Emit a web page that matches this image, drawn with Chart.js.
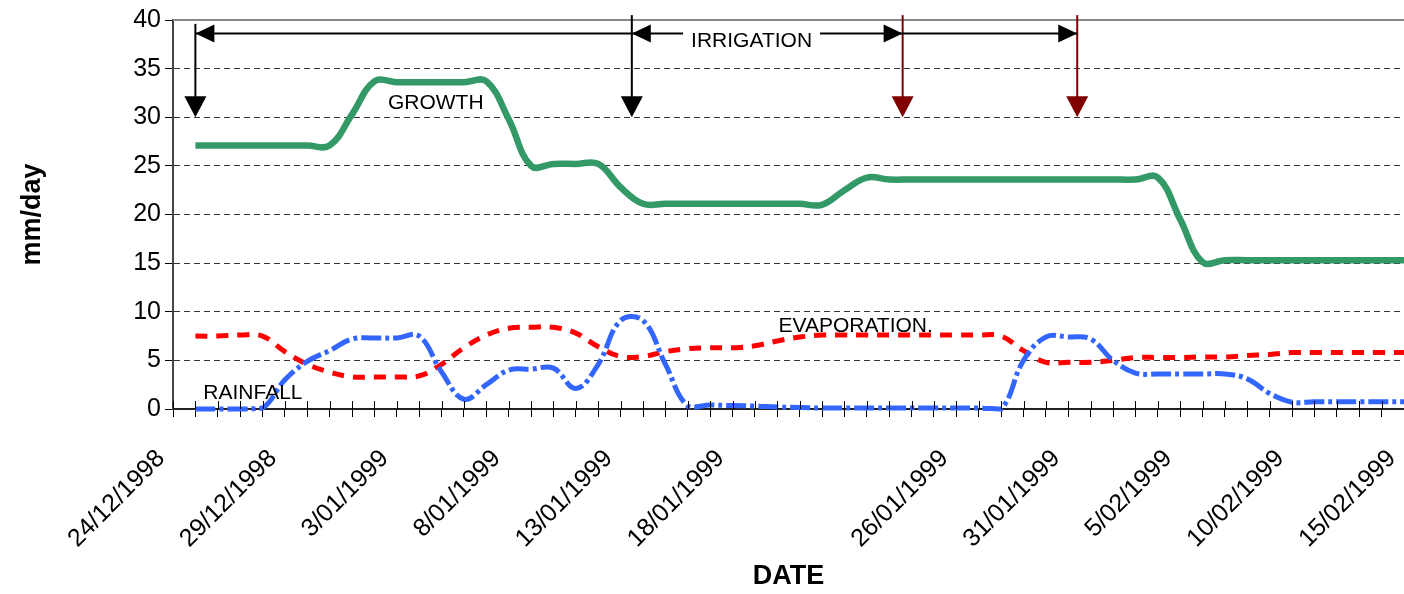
<!DOCTYPE html>
<html><head><meta charset="utf-8">
<script src="https://cdn.jsdelivr.net/npm/chart.js@4/dist/chart.umd.min.js"></script>
<style>html,body{margin:0;padding:0;background:#fff;}#wrap{width:1404px;height:594px;position:relative;}</style>
</head><body><div id="wrap"><canvas id="c" width="1404" height="594"></canvas></div>
<script>
// ---- data ----
const tickDates = ['24/12/1998','29/12/1998','3/01/1999','8/01/1999','13/01/1999','18/01/1999','','26/01/1999','31/01/1999','5/02/1999','10/02/1999','15/02/1999'];
const categories = [];
for (let i = 0; i < 56; i++) categories.push(i % 5 === 0 ? tickDates[i / 5] : '');

const growth = [null,27.1,27.1,27.1,27.1,27.1,27.1,27.1,30.3,33.7,33.6,33.6,33.6,33.6,33.7,29.8,25.0,25.2,25.2,25.2,22.8,21.1,21.1,21.1,21.1,21.1,21.1,21.1,21.1,21.0,22.5,23.8,23.6,23.6,23.6,23.6,23.6,23.6,23.6,23.6,23.6,23.6,23.6,23.6,23.8,19.5,15.1,15.3,15.3,15.3,15.3,15.3,15.3,15.3,15.3,15.3];
const evaporation = [null,7.5,7.5,7.6,7.5,5.9,4.6,3.8,3.3,3.3,3.3,3.4,4.6,6.3,7.6,8.3,8.4,8.4,7.8,6.4,5.4,5.4,5.9,6.2,6.3,6.3,6.5,7.0,7.4,7.6,7.6,7.6,7.6,7.6,7.6,7.6,7.6,7.5,6.0,4.8,4.8,4.8,5.0,5.3,5.3,5.3,5.35,5.35,5.5,5.6,5.8,5.8,5.8,5.8,5.8,5.8];
const rainfall = [null,0,0,0,0.1,3.0,4.9,6.0,7.2,7.3,7.3,7.5,3.8,1.0,2.5,4.0,4.1,4.2,2.1,4.6,9.1,9.1,4.6,0.3,0.4,0.35,0.3,0.2,0.15,0.1,0.1,0.1,0.1,0.1,0.1,0.1,0.1,0,5.0,7.4,7.4,7.2,5.0,3.7,3.6,3.6,3.6,3.6,3.1,1.6,0.7,0.75,0.75,0.75,0.75,0.75];
const yTicks = [0,5,10,15,20,25,30,35,40];

// annotations (category index / value units)
const vArrows = [
  {x:1.0, from:39.6, to:30, color:'#000000'},
  {x:20.5, from:40.5, to:30, color:'#000000'},
  {x:32.6, from:40.5, to:30, color:'#800000'},
  {x:40.4, from:40.5, to:30, color:'#800000'}
];
const hArrowY = 38.6;
const hSegments = [
  {from:1.0, to:20.5, headStart:true, headEnd:false},
  {from:20.5, to:32.6, headStart:true, headEnd:true},
  {from:32.6, to:40.4, headStart:false, headEnd:true}
];
const labels = [
  {text:'GROWTH', x:11.74, y:31.4},
  {text:'IRRIGATION', x:25.85, y:37.8, bg:true},
  {text:'EVAPORATION.', x:30.5, y:8.5},
  {text:'RAINFALL', x:3.57, y:1.65}
];

const FONT = "'Liberation Sans', Arial, sans-serif";
Chart.defaults.font.family = FONT;
Chart.defaults.color = '#000';

const annot = {
  id: 'annot',
  afterDatasetsDraw(chart) {
    const {ctx, chartArea: a, scales: {x, y}} = chart;
    ctx.save();
    ctx.strokeStyle = '#888'; ctx.lineWidth = 2;
    ctx.beginPath(); ctx.moveTo(a.left, a.top); ctx.lineTo(a.right, a.top); ctx.stroke();
    ctx.strokeStyle = '#000'; ctx.lineWidth = 1;
    x.ticks.forEach((t, i) => {
      const px = Math.round(x.getPixelForTick(i)) + 0.5;
      ctx.beginPath(); ctx.moveTo(px, a.bottom - 8); ctx.lineTo(px, a.bottom); ctx.stroke();
    });
    function tri(p1, p2, p3, col) {
      ctx.fillStyle = col; ctx.beginPath(); ctx.moveTo(p1[0], p1[1]); ctx.lineTo(p2[0], p2[1]); ctx.lineTo(p3[0], p3[1]); ctx.closePath(); ctx.fill();
    }
    vArrows.forEach(v => {
      const px = x.getPixelForValue(v.x), y0 = y.getPixelForValue(v.from), y1 = y.getPixelForValue(v.to);
      ctx.strokeStyle = v.color; ctx.lineWidth = 2;
      ctx.beginPath(); ctx.moveTo(px, y0); ctx.lineTo(px, y1 - 18); ctx.stroke();
      tri([px - 11, y1 - 21], [px + 11, y1 - 21], [px, y1], v.color);
    });
    const py = y.getPixelForValue(hArrowY);
    hSegments.forEach(s => {
      const x0 = x.getPixelForValue(s.from), x1 = x.getPixelForValue(s.to);
      ctx.strokeStyle = '#000'; ctx.lineWidth = 2;
      ctx.beginPath(); ctx.moveTo(x0, py); ctx.lineTo(x1, py); ctx.stroke();
      if (s.headStart) tri([x0, py], [x0 + 19, py - 9], [x0 + 19, py + 9], '#000');
      if (s.headEnd) tri([x1, py], [x1 - 19, py - 9], [x1 - 19, py + 9], '#000');
    });
    ctx.font = '21px ' + FONT; ctx.textAlign = 'center'; ctx.textBaseline = 'middle';
    labels.forEach(l => {
      const px = x.getPixelForValue(l.x), ly = y.getPixelForValue(l.y);
      if (l.bg) {
        const w = ctx.measureText(l.text).width;
        ctx.fillStyle = '#fff'; ctx.fillRect(px - w / 2 - 8, ly - 10, w + 16, 20);
      }
      ctx.fillStyle = '#000'; ctx.fillText(l.text, px, ly);
    });
    ctx.restore();
  }
};

new Chart(document.getElementById('c'), {
  type: 'line',
  data: {
    labels: categories,
    datasets: [
      {label:'RAINFALL', data: rainfall, borderColor:'#3366FF', borderWidth:5, borderDash:[20,4,4,4], pointRadius:0, tension:0.4, clip:false, order:1},
      {label:'EVAPORATION', data: evaporation, borderColor:'#FF0000', borderWidth:5, borderDash:[12,9], pointRadius:0, tension:0.4, clip:false, order:2},
      {label:'GROWTH', data: growth, borderColor:'#339966', borderWidth:6.5, pointRadius:0, tension:0.4, clip:false, order:3}
    ]
  },
  options: {
    responsive: false,
    animation: false,
    devicePixelRatio: 1,
    layout: {padding: {top: 20, right: 0, bottom: 0, left: 0}},
    plugins: {legend: {display: false}, tooltip: {enabled: false}},
    scales: {
      x: {
        type: 'category',
        offset: false,
        grid: {display: true, drawOnChartArea: false, drawTicks: true, tickLength: 8, tickColor: '#000', lineWidth: 1},
        border: {display: true, color: '#222', width: 2},
        ticks: {autoSkip: false, maxRotation: 45, minRotation: 45, padding: 27, labelOffset: -12, font: {size: 25}, color: '#000',
                callback: (v, i) => categories[i]},
        title: {display: true, text: 'DATE', font: {size: 27, weight: 'bold'}, padding: {top: 0, bottom: 1}},
        afterFit: s => { s.height = 185; s.paddingLeft = 0; s.paddingRight = 0; }
      },
      y: {
        min: 0, max: 40,
        afterBuildTicks: s => { s.ticks = yTicks.map(v => ({value: v})); },
        grid: {color: c => (c.tick && (c.tick.value === 40 || c.tick.value === 0)) ? 'rgba(0,0,0,0)' : '#333',
               tickColor: '#000', tickLength: 8, lineWidth: 1, drawTicks: true},
        border: {display: true, color: '#444', width: 2, dash: [6, 4]},
        ticks: {padding: 4, font: {size: 25}, color: '#000'},
        title: {display: true, text: 'mm/day', font: {size: 27, weight: 'bold'}, padding: {top: 16, bottom: 0}},
        afterFit: s => { s.width = 173; }
      }
    }
  },
  plugins: [annot]
});
</script></body></html>
